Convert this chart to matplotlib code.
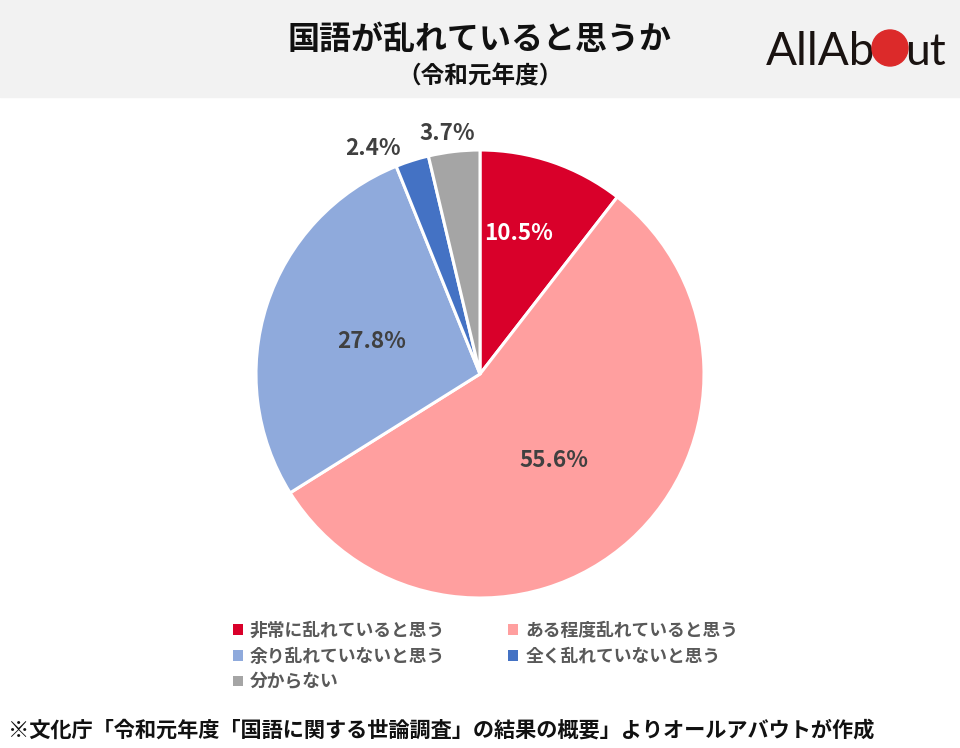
# Pie chart: is the Japanese language in disorder (Reiwa 1 survey)

import matplotlib
matplotlib.use("Agg")
import matplotlib.pyplot as plt
from matplotlib.patches import Rectangle, Circle

plt.rcParams['font.family'] = ['Noto Sans CJK JP', 'DejaVu Sans']

categories = ["非常に乱れていると思う", "ある程度乱れていると思う", "余り乱れていないと思う",
              "全く乱れていないと思う", "分からない"]
values = [10.5, 55.6, 27.8, 2.4, 3.7]
colors = ["#D9002A", "#FF9F9F", "#8FAADC", "#4472C4", "#A5A5A5"]

title = "国語が乱れていると思うか"
subtitle = "（令和元年度）"
footnote = "※文化庁「令和元年度「国語に関する世論調査」の結果の概要」よりオールアバウトが作成"

fig = plt.figure(figsize=(9.6, 7.48), dpi=100)
# axes in pixels of the picture, y flipped by hand
ax = fig.add_axes([0, 0, 1, 1])

def py(y):
    return 748 - y

wedges, _ = ax.pie(values, colors=colors, startangle=90, counterclock=False,
                   center=(480, py(374)), radius=224, frame=True,
                   wedgeprops={"edgecolor": "white", "linewidth": 2.2})
ax.set_xlim(0, 960)
ax.set_ylim(0, 748)
ax.axis("off")

# header band
ax.add_patch(Rectangle((0, py(97)), 960, 97, color="#F2F2F2", zorder=0))
ax.text(480, py(40), title, ha="center", va="center", fontsize=23, fontweight="bold", color="#111111")
ax.text(480, py(76), subtitle, ha="center", va="center", fontsize=17, fontweight="bold", color="#111111")

# logo
logo_font = "Lato"
ax.text(766, py(65), "AllAb", ha="left", va="baseline", fontsize=33, family=logo_font, color="#1A1311")
ax.add_patch(Circle((890, py(48)), 18, color="#DC2A2A", zorder=3))
ax.text(905, py(65), "ut", ha="left", va="baseline", fontsize=32, family=logo_font, color="#1A1311")

# percentage labels
label_pos = [(519, 233), (554, 460), (372, 341), (373, 148), (447, 133)]
label_colors = ["white", "#404040", "#404040", "#404040", "#404040"]
for v, (x, y), c in zip(values, label_pos, label_colors):
    ax.text(x, py(y), f"{v}%", ha="center", va="center", fontsize=16.2, fontweight="bold", color=c)

# legend fills column by column
order = [0, 2, 4, 1, 3]
fig.legend([wedges[i] for i in order], [categories[i] for i in order], ncol=2,
           loc="upper left", bbox_to_anchor=(233 / 960, 1 - 622 / 748), frameon=False,
           prop={"size": 12.8, "weight": "bold"}, labelcolor="#595959",
           handlelength=0.55, handleheight=0.55, handletextpad=0.4,
           columnspacing=3.55, labelspacing=0.43, borderpad=0, borderaxespad=0)
for h in fig.legends[0].get_patches():
    h.set_linewidth(0)

ax.text(8, py(730), footnote, ha="left", va="center", fontsize=15.25, fontweight="bold", color="#111111")

fig.savefig("out.png", dpi=100)
